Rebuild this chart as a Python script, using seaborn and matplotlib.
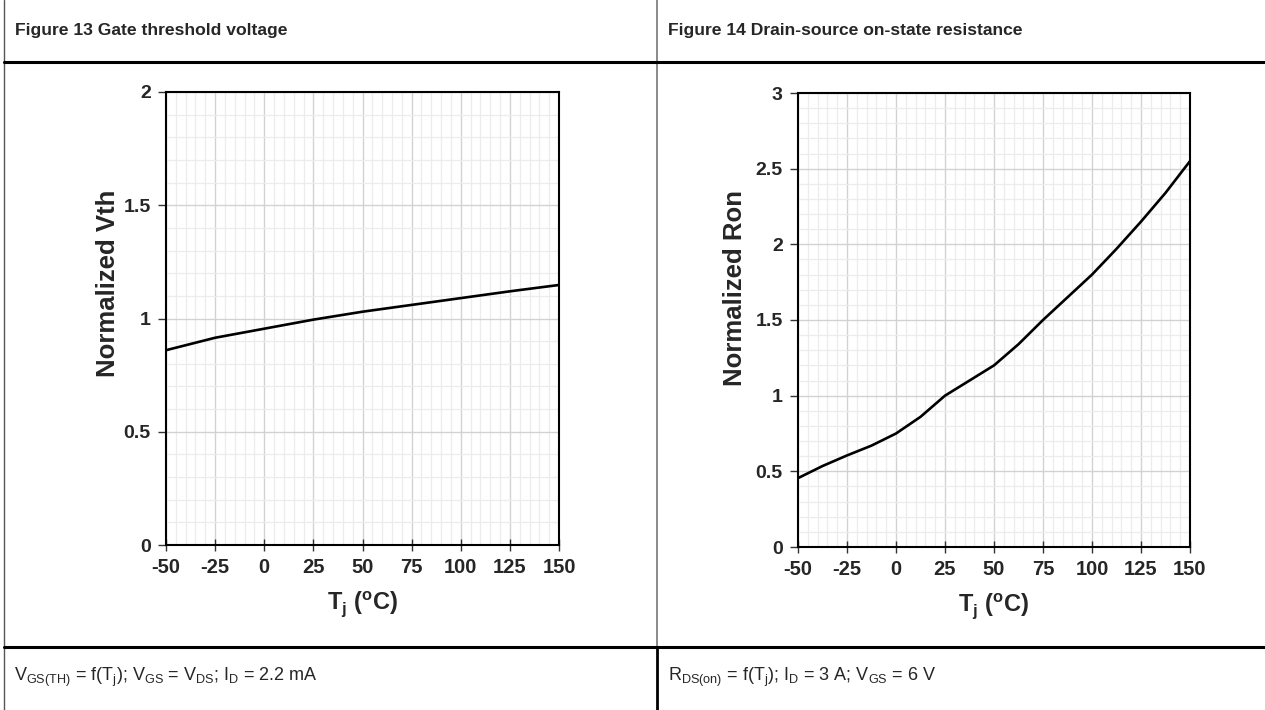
import matplotlib
matplotlib.use("Agg")
import matplotlib.pyplot as plt
import seaborn as sns
import pandas as pd
from matplotlib.lines import Line2D
from matplotlib.ticker import MultipleLocator

# Data
tj = [-50, -25, 0, 25, 50, 75, 100, 125, 150]
vth_norm = [0.86, 0.915, 0.955, 0.995, 1.03, 1.06, 1.09, 1.12, 1.148]

tj_ron = [-50, -37.5, -25, -12.5, 0, 12.5, 25, 37.5, 50, 62.5, 75, 87.5, 100, 112.5, 125, 137.5, 150]
ron_norm = [0.455, 0.535, 0.605, 0.67, 0.75, 0.86, 1.0, 1.1, 1.2, 1.34, 1.5, 1.65, 1.8, 1.97, 2.15, 2.34, 2.55]

x_ticks = [-50, -25, 0, 25, 50, 75, 100, 125, 150]
vth_ticks = [0, 0.5, 1, 1.5, 2]
ron_ticks = [0, 0.5, 1, 1.5, 2, 2.5, 3]

titles = ["Figure 13 Gate threshold voltage",
          "Figure 14 Drain-source on-state resistance"]
footers = [r"V$_{\mathrm{GS(TH)}}$ = f(T$_\mathrm{j}$); V$_\mathrm{GS}$ = V$_\mathrm{DS}$; I$_\mathrm{D}$ = 2.2 mA",
           r"R$_{\mathrm{DS(on)}}$ = f(T$_\mathrm{j}$); I$_\mathrm{D}$ = 3 A; V$_\mathrm{GS}$ = 6 V"]

sns.set_style("white")
plt.rcParams["font.family"] = ["Liberation Sans", "DejaVu Sans"]
plt.rcParams["mathtext.fontset"] = "custom"
plt.rcParams["mathtext.rm"] = "Liberation Sans"
plt.rcParams["mathtext.bf"] = "Liberation Sans:bold"

W, H = 1265, 710
fig = plt.figure(figsize=(W / 100, H / 100), dpi=100)

def px(x0, y0, x1, y1):
    return [x0 / W, 1 - y1 / H, (x1 - x0) / W, (y1 - y0) / H]

ax1 = fig.add_axes(px(166, 92, 559, 545))
ax2 = fig.add_axes(px(798, 93, 1190, 547))

df1 = pd.DataFrame({"Tj": tj, "val": vth_norm})
df2 = pd.DataFrame({"Tj": tj_ron, "val": ron_norm})

sns.lineplot(data=df1, x="Tj", y="val", ax=ax1, color="black", linewidth=1.9)
sns.lineplot(data=df2, x="Tj", y="val", ax=ax2, color="black", linewidth=1.9)

setup = [(ax1, vth_ticks, 2, "Normalized Vth", (-0.148, 0.578)),
         (ax2, ron_ticks, 3, "Normalized Ron", (-0.161, 0.57))]
for ax, yt, ymax, ylab, lpos in setup:
    ax.set_xlim(-50, 150)
    ax.set_ylim(0, ymax)
    ax.set_xticks(x_ticks)
    ax.set_yticks(yt)
    ax.set_xticklabels([str(v) for v in x_ticks], fontweight="bold", fontsize=14.5)
    ax.set_yticklabels([f"{v:g}" for v in yt], fontweight="bold", fontsize=14)
    ax.xaxis.set_minor_locator(MultipleLocator(5))
    ax.yaxis.set_minor_locator(MultipleLocator(0.1))
    ax.grid(which="major", color="#d2d2d2", linewidth=1.0)
    ax.grid(which="minor", color="#ececec", linewidth=0.9)
    ax.set_axisbelow(True)
    for s in ax.spines.values():
        s.set_color("black")
        s.set_linewidth(1.5)
    ax.tick_params(axis="x", which="major", direction="inout", length=9, width=1.0,
                   color="#333333", pad=5, bottom=True)
    ax.tick_params(axis="y", which="major", direction="out", length=6, width=1.0,
                   color="#333333", pad=5, left=True)
    ax.tick_params(which="minor", length=0)
    ax.set_xlabel(r"T$_\mathbf{j}$ ($^\mathbf{o}$C)", fontweight="bold", fontsize=17, labelpad=9)
    ax.set_ylabel(ylab, fontweight="bold", fontsize=18.5, va="center")
    ax.yaxis.set_label_coords(*lpos)

# table frame
def hline(y, x0, x1, color, lw):
    fig.add_artist(Line2D([x0 / W, x1 / W], [1 - y / H, 1 - y / H], color=color, linewidth=lw,
                          transform=fig.transFigure))

def vline(x, y0, y1, color, lw):
    fig.add_artist(Line2D([x / W, x / W], [1 - y0 / H, 1 - y1 / H], color=color, linewidth=lw,
                          transform=fig.transFigure))

vline(4, 0, H, "#555555", 1.0)
vline(657, 0, 647, "#777777", 1.2)
vline(657, 647, H, "black", 2.0)
hline(62, 4, W, "black", 2.2)
hline(647, 4, W, "black", 2.2)

fig.text(15 / W, 1 - 31 / H, titles[0], fontweight="bold", fontsize=12.6, va="center", ha="left")
fig.text(668 / W, 1 - 31 / H, titles[1], fontweight="bold", fontsize=12.6, va="center", ha="left")
fig.text(14 / W, 1 - 677 / H, footers[0], fontsize=13, va="center", ha="left")
fig.text(668 / W, 1 - 677 / H, footers[1], fontsize=13, va="center", ha="left")

fig.savefig("out.png", dpi=100, facecolor="white")
